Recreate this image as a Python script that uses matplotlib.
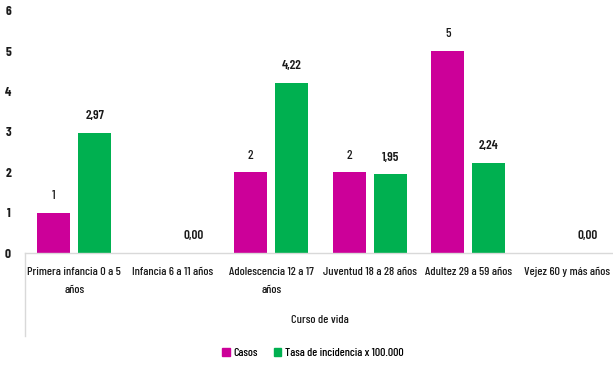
import matplotlib
matplotlib.use("Agg")
import matplotlib.pyplot as plt
from matplotlib.lines import Line2D
from matplotlib.patches import Patch
import numpy as np

plt.rcParams['font.family'] = ['Barlow Condensed', 'DejaVu Sans']
plt.rcParams['font.weight'] = 500

# datos
categorias = ["Primera infancia 0 a 5\naños", "Infancia 6 a 11 años",
              "Adolescencia 12 a 17\naños", "Juventud 18 a 28 años",
              "Adultez 29 a 59 años", "Vejez 60 y más años"]
casos = [1, 0, 2, 2, 5, 0]
tasa = [2.97, 0.00, 4.22, 1.95, 2.24, 0.00]
etiquetas_casos = ["1", "", "2", "2", "5", ""]
etiquetas_tasa = ["2,97", "0,00", "4,22", "1,95", "2,24", "0,00"]

COL_CASOS = "#CC0099"
COL_TASA = "#00B050"
FS = 8.8

fig = plt.figure(figsize=(6.13, 3.65), dpi=100)
ax = fig.add_axes([25 / 613, 0.3068, 591 / 613, 0.664])

x = np.arange(len(categorias))
w = 0.335
off = 0.208
ax.bar(x - off, casos, w, color=COL_CASOS)
ax.bar(x + off, tasa, w, color=COL_TASA)

for i in range(len(categorias)):
    if etiquetas_casos[i]:
        ax.annotate(etiquetas_casos[i], (x[i] - off, casos[i]), xytext=(0, 12),
                    textcoords="offset points", ha="center", va="center",
                    fontsize=9.5, color="#1a1a1a")
    ax.annotate(etiquetas_tasa[i], (x[i] + off, tasa[i]), xytext=(0, 12),
                textcoords="offset points", ha="center", va="center",
                fontsize=9.5, color="#1a1a1a", fontweight=600)

ax.set_xlim(-0.5, len(categorias) - 0.5)
ax.set_ylim(0, 6)
ax.set_yticks(range(0, 7))
ax.set_xticks(x)
ax.set_xticklabels(categorias, fontsize=FS, linespacing=2.0, color="#1a1a1a")
ax.tick_params(axis='x', length=0, pad=10)
ax.tick_params(axis='y', length=0, pad=10, labelsize=9.5, labelcolor="#1a1a1a")
for lbl in ax.get_yticklabels():
    lbl.set_fontweight(700)

for s in ["top", "right", "left"]:
    ax.spines[s].set_visible(False)
ax.spines["bottom"].set_color("#d9d9d9")
ax.spines["bottom"].set_linewidth(1)

# borde del eje de categorias
fig.add_artist(Line2D([25 / 613, 25 / 613], [1 - 253 / 365, 1 - 336 / 365],
                      color="#d9d9d9", lw=1, transform=fig.transFigure))

fig.text(320 / 613, 1 - 320 / 365, "Curso de vida", ha="center", va="center",
         fontsize=FS, color="#1a1a1a")

handles = [Patch(color=COL_CASOS, label="Casos"),
           Patch(color=COL_TASA, label="Tasa de incidencia x 100.000")]
fig.legend(handles=handles, loc="center", bbox_to_anchor=(313 / 613, 1 - 353 / 365),
           ncol=2, frameon=False, fontsize=8.6, handlelength=0.6, handleheight=0.75,
           handletextpad=0.3, columnspacing=1.4)

fig.savefig("out.png", dpi=100)
